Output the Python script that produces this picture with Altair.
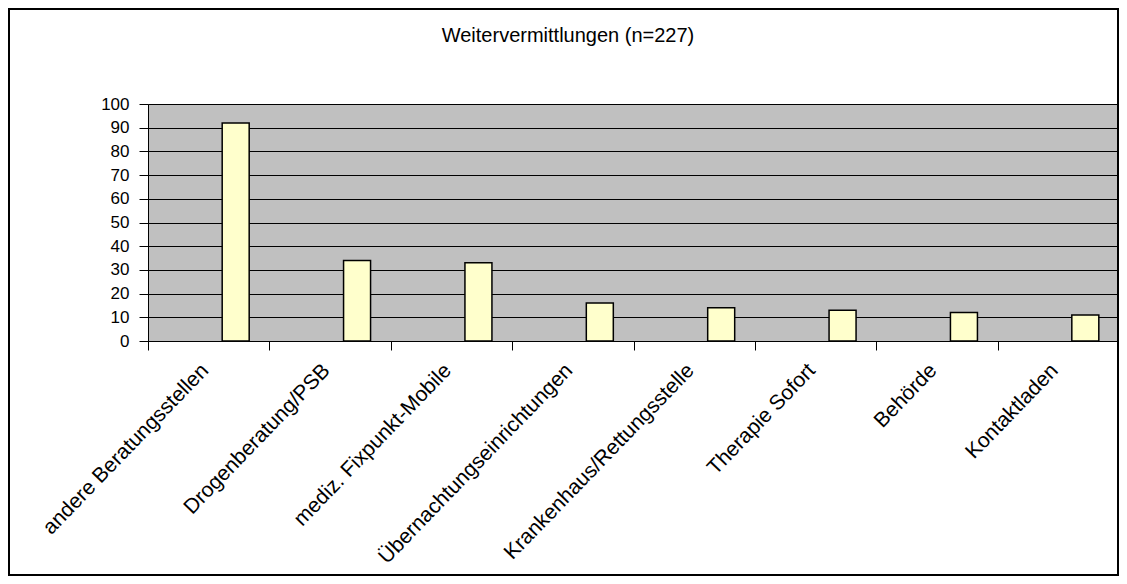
import altair as alt
import pandas as pd

title_text = "Weitervermittlungen (n=227)"
categories = [
    "andere Beratungsstellen",
    "Drogenberatung/PSB",
    "mediz. Fixpunkt-Mobile",
    "Übernachtungseinrichtungen",
    "Krankenhaus/Rettungsstelle",
    "Therapie Sofort",
    "Behörde",
    "Kontaktladen",
]
values = [92, 34, 33, 16, 14, 13, 12, 11]
y_ticks = [0, 10, 20, 30, 40, 50, 60, 70, 80, 90, 100]

df = pd.DataFrame({"cat": categories, "val": values})

W = 971
H = 237
PAD_L, PAD_T, PAD_R, PAD_B = 140, 96, 0, 235
FONT = "Liberation Sans"

bars = alt.Chart(df).mark_bar(
    width=27, xOffset=27, color="#FFFFCC", stroke="black", strokeWidth=1.5
).encode(
    x=alt.X(
        "cat:N",
        sort=categories,
        scale=alt.Scale(paddingInner=0, paddingOuter=0),
        axis=alt.Axis(
            title=None,
            tickBand="extent",
            tickSize=9,
            tickColor="black",
            domainColor="black",
            labelAngle=-46,
            labelAlign="right",
            labelBaseline="middle",
            labelPadding=17,
            labelOffset=-4,
            labelFontSize=21,
            labelFont=FONT,
            labelColor="black",
            labelLimit=500,
            grid=False,
        ),
    ),
    y=alt.Y(
        "val:Q",
        scale=alt.Scale(domain=[0, 100], nice=False),
        axis=alt.Axis(
            title=None,
            values=y_ticks,
            tickSize=9,
            tickColor="black",
            domainColor="black",
            labelPadding=10,
            labelFontSize=17,
            labelFont=FONT,
            labelColor="black",
            grid=True,
            gridColor="black",
            gridWidth=1,
            gridOpacity=1,
        ),
    ),
)

title = alt.Chart(pd.DataFrame({"t": [title_text]})).mark_text(
    font=FONT, fontSize=20, color="black", baseline="middle", align="center"
).encode(text="t:N", x=alt.value(420), y=alt.value(-68))

border = alt.Chart(pd.DataFrame({"t": [title_text]})).mark_rect(
    fill=None, stroke="black", strokeWidth=2
).encode(
    x=alt.value(-139), x2=alt.value(W - 1), y=alt.value(-95), y2=alt.value(H + PAD_B - 1)
)

chart = alt.layer(border, bars, title).properties(
    width=W,
    height=H,
    autosize=alt.AutoSizeParams(type="none"),
    padding={"left": PAD_L, "top": PAD_T, "right": PAD_R, "bottom": PAD_B},
    background="white",
).configure_view(
    fill="#C0C0C0", stroke="#808080", strokeWidth=1
)

chart.save("out.html", embed_options={"renderer": "svg", "actions": False})
